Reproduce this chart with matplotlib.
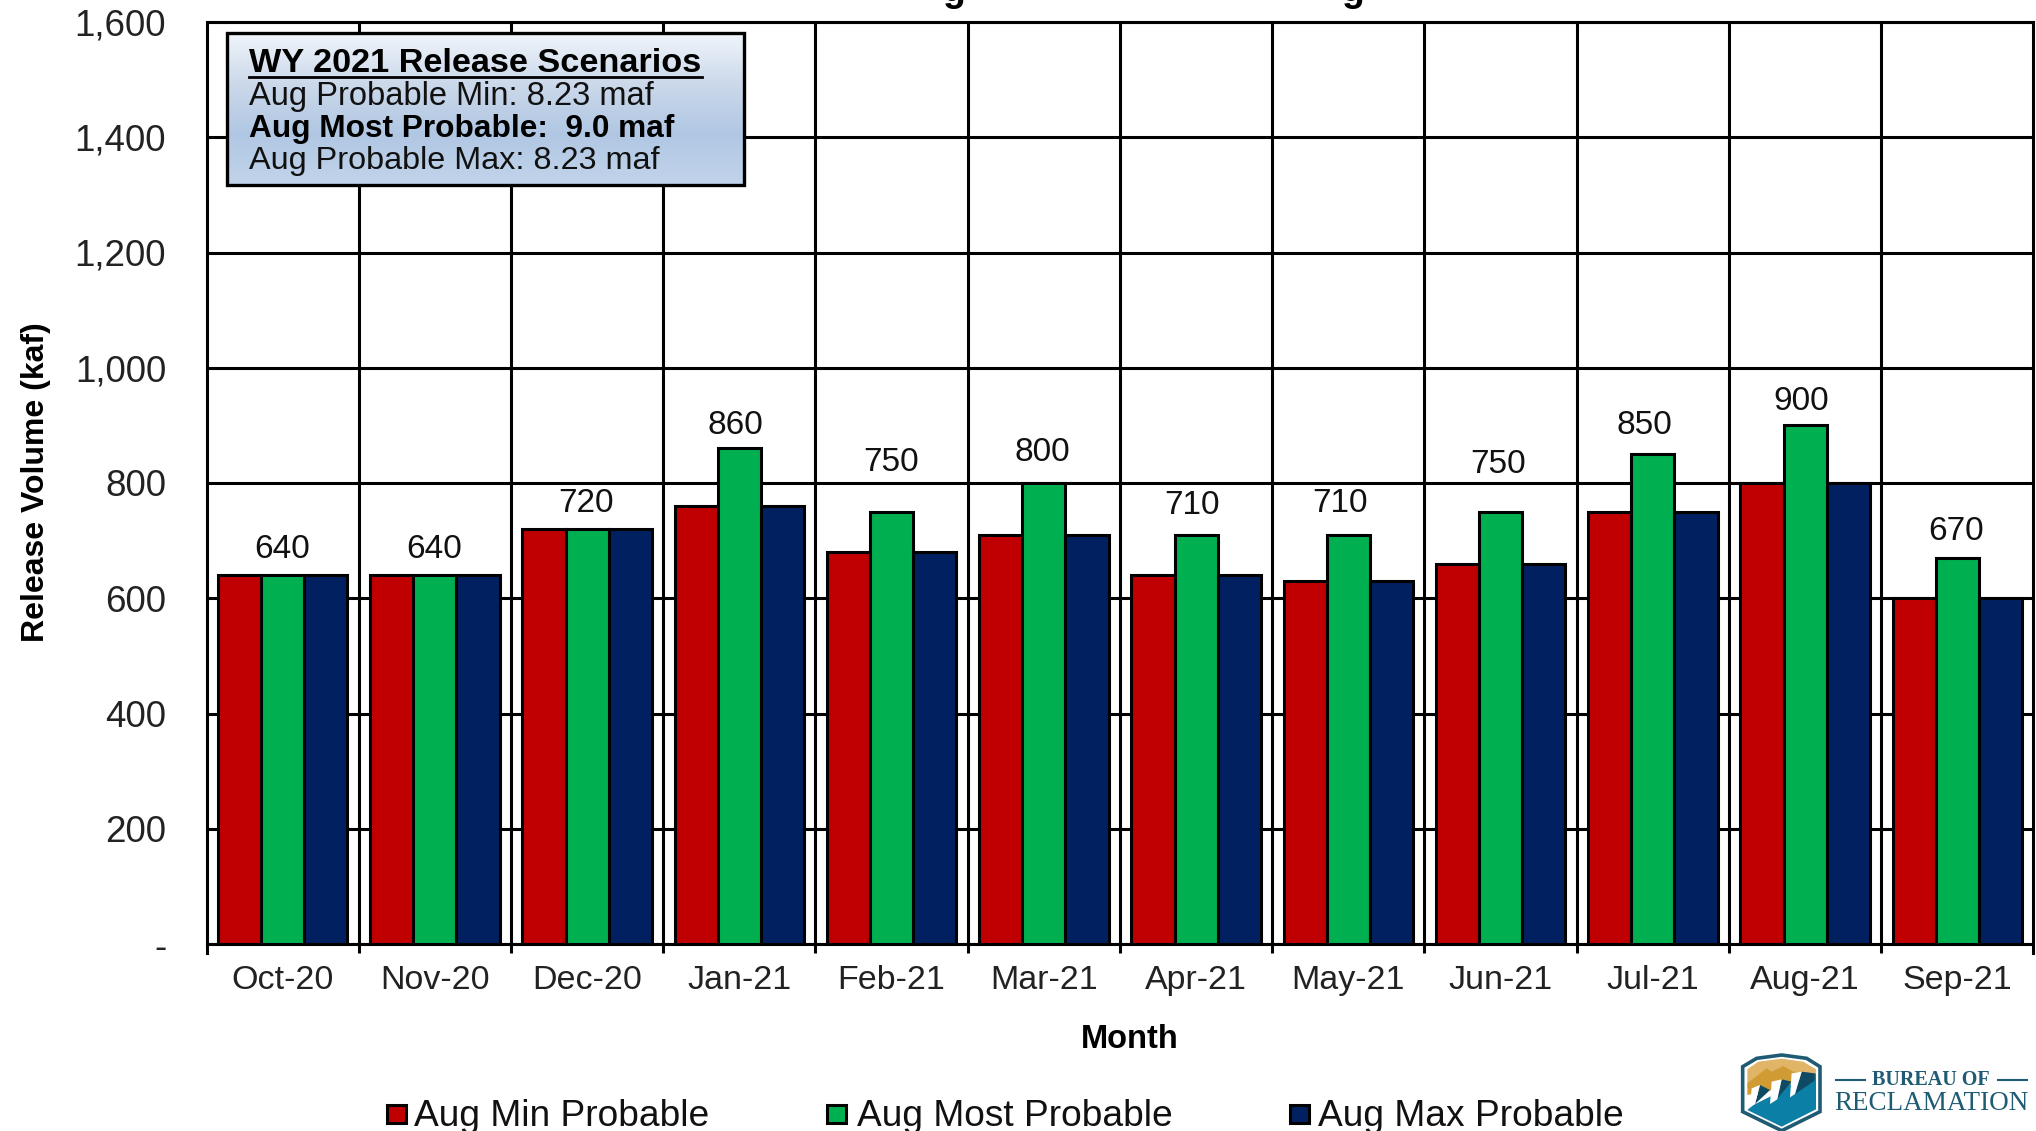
import matplotlib
matplotlib.use("Agg")
import matplotlib.pyplot as plt
from matplotlib.ticker import FixedLocator
import numpy as np
from matplotlib.patches import Polygon, Rectangle

months = ["Oct-20", "Nov-20", "Dec-20", "Jan-21", "Feb-21", "Mar-21",
          "Apr-21", "May-21", "Jun-21", "Jul-21", "Aug-21", "Sep-21"]
aug_min = [640, 640, 720, 760, 680, 710, 640, 630, 660, 750, 800, 600]
aug_most = [640, 640, 720, 860, 750, 800, 710, 710, 750, 850, 900, 670]
aug_max = [640, 640, 720, 760, 680, 710, 640, 630, 660, 750, 800, 600]
series_names = ["Aug Min Probable", "Aug Most Probable", "Aug Max Probable"]
y_ticks = [0, 200, 400, 600, 800, 1000, 1200, 1400, 1600]
y_labels = ["-", "200", "400", "600", "800", "1,000", "1,200", "1,400", "1,600"]

# hand-placed label offsets in the reference (pixels from the top centre of each middle bar)
label_dx = [-1, -1, -1, -4, -1, -2, -4, -8, -3, -8, -4, -1]
label_dy = [10, 10, 10, 7, 34, 15, 14, 16, 32, 13, 8, 11]

RED, GREEN, NAVY = "#C00000", "#00B050", "#002060"
W, H = 2036, 1131
plt.rcParams["font.family"] = ["Liberation Sans", "DejaVu Sans"]
fig = plt.figure(figsize=(W / 100, H / 100), dpi=100, facecolor="white")
ax = fig.add_axes([206.5 / W, 1 - 944 / H, 1827 / W, 922 / H])
x = np.arange(len(months))
bw = 0.85 / 3
for off, vals, c in zip((-bw, 0, bw), (aug_min, aug_most, aug_max), (RED, GREEN, NAVY)):
    ax.bar(x + off, vals, bw, color=c, edgecolor="black", linewidth=2.2, zorder=3)
px_to_pt = 0.72
for xi, v, dx, dy in zip(x, aug_most, label_dx, label_dy):
    ax.annotate(str(v), (xi, v), xytext=(dx * px_to_pt, dy * px_to_pt), textcoords="offset points",
                ha="center", va="bottom", fontsize=24, color="#111111", zorder=5)
ax.set_xlim(-0.5, len(months) - 0.5)
ax.set_ylim(0, 1600)
ax.set_yticks(y_ticks, y_labels, fontsize=26.5, color="#222222")
ax.set_xticks(x, months, fontsize=24.5, color="#222222")
ax.xaxis.set_minor_locator(FixedLocator(x[:-1] + 0.5))
ax.tick_params(axis="x", which="major", length=0, pad=15)
ax.tick_params(axis="x", which="minor", length=6.5, width=2.2, color="black")
ax.tick_params(axis="y", length=0, pad=29)
ax.grid(axis="y", color="black", linewidth=2.2, zorder=1)
ax.grid(axis="x", which="minor", color="black", linewidth=2.2, zorder=1)
ax.set_axisbelow(True)
for s in ("top", "left", "bottom"):
    ax.spines[s].set_linewidth(2.2)
ax.spines["right"].set_visible(False)
ax.plot([1, 1], [-0.0098, 1], transform=ax.transAxes, color="black", lw=2.2, clip_on=False, zorder=2)
ax.plot([0, 0], [-0.0098, 0], transform=ax.transAxes, color="black", lw=2.2, clip_on=False, zorder=2)

fig.text(1130 / W, 1 - 1039 / H, "Month", fontsize=23.5, fontweight="bold", ha="center", va="center")
fig.text(36 / W, 1 - 482 / H, "Release Volume (kaf)", fontsize=23, fontweight="bold", rotation=90,
         ha="center", va="center")

# overlay in pixel coordinates
bg = fig.add_axes([0, 0, 1, 1], facecolor="none", zorder=10)

# the title is cut by the top edge in the reference: only two descenders remain
for gx in (954, 1353):
    fig.text(gx / W, 1 - 1 / H, "g", fontsize=27, fontweight="bold", ha="center", va="baseline", color="black")

# legend
for px, tx, c, name in zip((387, 827, 1290), (414, 857, 1318), (RED, GREEN, NAVY), series_names):
    bg.add_patch(Rectangle((px, 1105), 19, 18, fc=c, ec="black", lw=2.2))
    bg.text(tx, 1117, name, fontsize=26.7, va="center", ha="left", color="#111111")

# scenario box with vertical gradient
grad = np.array([[0.94, 0.96, 0.98], [0.80, 0.85, 0.92], [0.69, 0.78, 0.89], [0.76, 0.83, 0.92]])
ys = np.linspace(0, 3, 200)
img = np.stack([np.interp(ys, range(4), grad[:, i]) for i in range(3)], axis=1)[:, None, :]
bg.imshow(img, extent=(227, 744, 185, 33), aspect="auto", zorder=1)
bg.add_patch(Rectangle((227, 33), 517, 152, fc="none", ec="black", lw=2.4, zorder=2))
bg.text(249, 63, "WY 2021 Release Scenarios", fontsize=24.7, fontweight="bold", va="center", zorder=3)
bg.plot([249, 702], [77, 77], color="black", lw=2, zorder=3)
bg.text(249, 97, "Aug Probable Min: 8.23 maf", fontsize=23.5, va="center", color="#111111", zorder=3)
bg.text(249, 129, "Aug Most Probable:  9.0 maf", fontsize=22.8, fontweight="bold", va="center", zorder=3)
bg.text(249, 161, "Aug Probable Max: 8.23 maf", fontsize=23.3, va="center", color="#111111", zorder=3)


def logo(points):
    return [(1720 + px / 3, 1040 + py / 3) for px, py in points]


INK = "#1F5C73"
bg.add_patch(Polygon(logo([(68, 80), (110, 55), (185, 45), (260, 55), (300, 80), (300, 215), (185, 272),
                           (68, 215)]), closed=True, fc="white", ec=INK, lw=2.6, zorder=3))
bg.add_patch(Polygon(logo([(82, 88), (115, 65), (185, 56), (250, 65), (288, 88), (288, 110), (82, 140)]),
                     closed=True, fc="#E0B567", ec="none", zorder=4))
bg.add_patch(Polygon(logo([(82, 130), (140, 85), (155, 95), (190, 78), (220, 95), (285, 100), (285, 125),
                           (82, 165)]), closed=True, fc="#CF9B32", ec="none", zorder=5))
bg.add_patch(Polygon(logo([(82, 210), (100, 195), (150, 170), (215, 130), (288, 100), (288, 208), (185, 260)]),
                     closed=True, fc="#0C7FA6", ec="none", zorder=6))
for dark in ([(120, 135), (150, 150), (105, 192)], [(185, 118), (215, 125), (170, 178)],
             [(245, 95), (284, 100), (284, 122), (225, 162)]):
    bg.add_patch(Polygon(logo(dark), closed=True, fc="#0E4A63", ec="none", zorder=7))
for white in ([(95, 145), (120, 135), (105, 192), (90, 202)], [(155, 125), (185, 118), (172, 178), (150, 192)],
              [(215, 100), (245, 95), (225, 162), (210, 172)]):
    bg.add_patch(Polygon(logo(white), closed=True, fc="white", ec="none", zorder=8))
bg.text(1931, 1080, "BUREAU OF", fontsize=14.5, fontweight="bold", family="Liberation Serif", color=INK,
        ha="center", va="center", zorder=3)
bg.text(1931.5, 1103, "RECLAMATION", fontsize=19.5, family="Liberation Serif", color=INK, ha="center",
        va="center", zorder=3)
bg.plot([1836, 1865], [1080, 1080], color=INK, lw=1.5)
bg.plot([1998, 2027], [1080, 1080], color=INK, lw=1.5)

bg.set_xlim(0, W)
bg.set_ylim(H, 0)
bg.axis("off")

fig.savefig("out.png", dpi=100)
